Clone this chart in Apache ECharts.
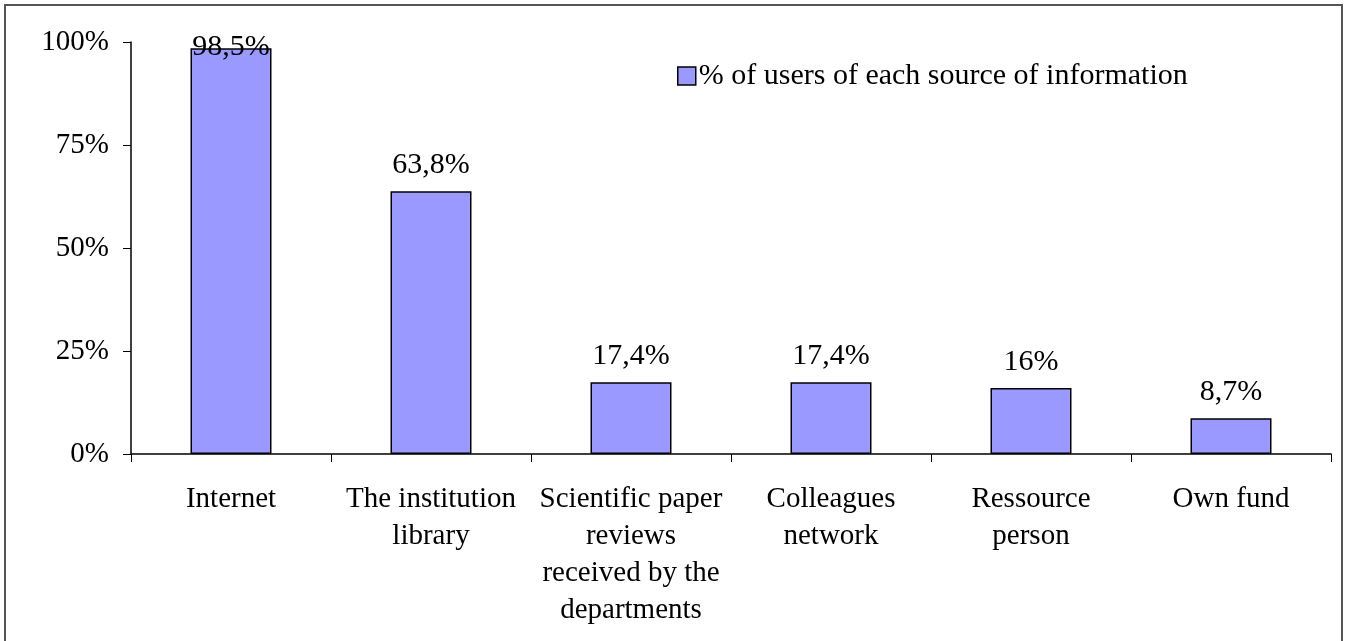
<!DOCTYPE html>
<html>
<head>
<meta charset="utf-8">
<script src="https://cdn.jsdelivr.net/npm/echarts@6/dist/echarts.min.js"></script>
<style>
  html, body { margin: 0; padding: 0; background: #fff; }
  #chart { width: 1348px; height: 641px; }
</style>
</head>
<body>
<div id="chart"></div>
<script>
  // categories and values
  var categories = ['Internet', 'The institution\nlibrary', 'Scientific paper\nreviews\nreceived by the\ndepartments', 'Colleagues\nnetwork', 'Ressource\nperson', 'Own fund']
  var shares = [98.5, 63.8, 17.4, 17.4, 16, 8.7]
  var valueLabels = ['98,5%', '63,8%', '17,4%', '17,4%', '16%', '8,7%']
  var seriesName = '% of users of each source of information'

  var font = 'Liberation Serif, Times New Roman, serif'

  var chart = echarts.init(document.getElementById('chart'))

  var barData = shares.map(function (v, i) {
    var item = { value: v }
    // the first label is pushed down inside the plot area
    if (i === 0) item.label = { distance: -14 }
    return item
  })

  var option = {
    backgroundColor: '#fff',
    animation: false,
    textStyle: { fontFamily: font, color: '#000' },
    graphic: [
      {
        type: 'rect',
        shape: { x: 5, y: 5, width: 1337, height: 660 },
        style: { fill: 'none', stroke: '#555', lineWidth: 2 },
        silent: true
      }
    ],
    legend: {
      left: 672,
      top: 56,
      icon: 'rect',
      itemWidth: 18,
      itemHeight: 18,
      itemGap: 10,
      itemStyle: { borderColor: '#000', borderWidth: 1.5 },
      textStyle: { fontFamily: font, fontSize: 30, color: '#000', padding: [0, 0, 0, -2] },
      data: [seriesName]
    },
    grid: {
      left: 131,
      right: 17,
      top: 42,
      bottom: 187
    },
    xAxis: {
      type: 'category',
      data: categories,
      axisLine: { lineStyle: { color: '#000', width: 1.5 } },
      axisTick: { show: true, length: 8, lineStyle: { color: '#000' } },
      axisLabel: {
        interval: 0,
        margin: 27,
        fontFamily: font,
        fontSize: 29,
        lineHeight: 37,
        color: '#000'
      },
      splitLine: { show: false }
    },
    yAxis: {
      type: 'value',
      min: 0,
      max: 100,
      interval: 25,
      axisLine: { show: true, lineStyle: { color: '#000', width: 1.5 } },
      axisTick: { show: true, length: 8, lineStyle: { color: '#000' } },
      axisLabel: {
        formatter: '{value}%',
        margin: 22,
        fontFamily: font,
        fontSize: 29,
        color: '#000'
      },
      splitLine: { show: false }
    },
    series: [
      {
        name: seriesName,
        type: 'bar',
        barWidth: 81,
        data: barData,
        itemStyle: {
          color: '#9999ff',
          borderColor: '#000',
          borderWidth: 1.5
        },
        label: {
          show: true,
          position: 'top',
          distance: 11,
          fontFamily: font,
          fontSize: 30,
          color: '#000',
          formatter: function (p) { return valueLabels[p.dataIndex] }
        }
      }
    ]
  }

  chart.setOption(option)
</script>
</body>
</html>
